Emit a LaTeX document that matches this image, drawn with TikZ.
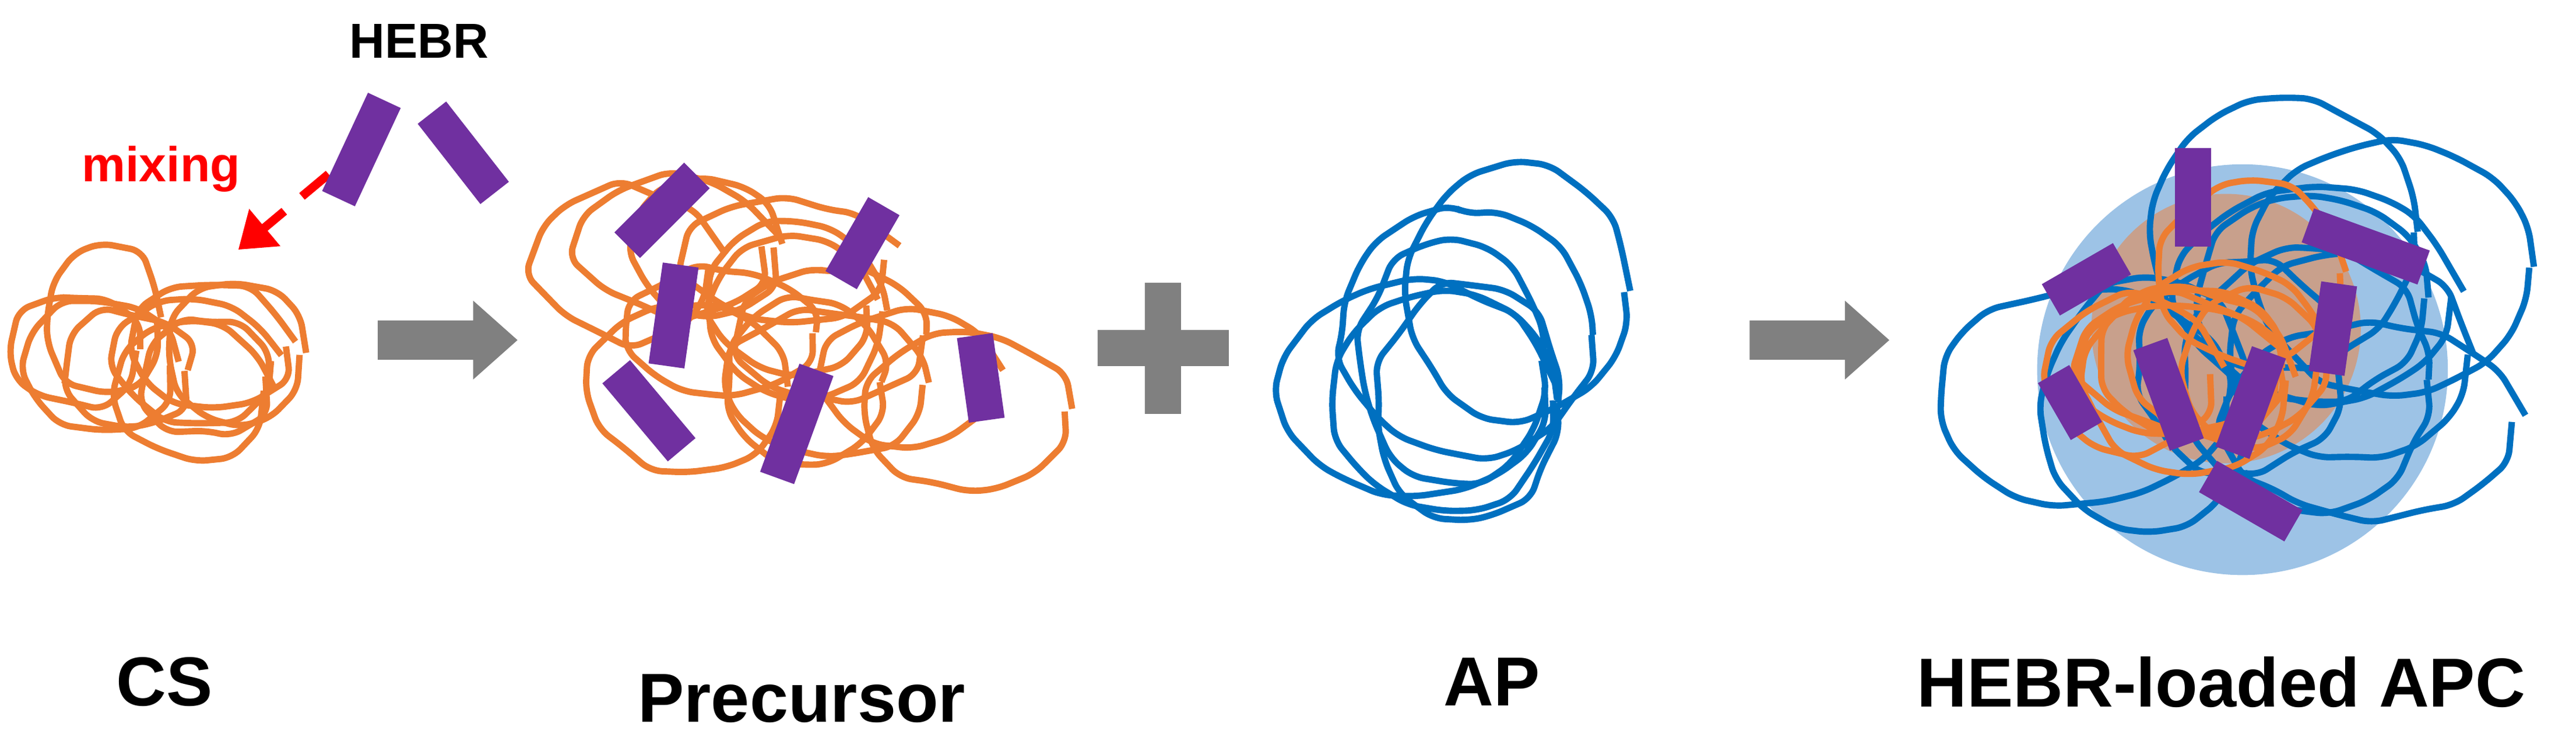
\documentclass[tikz,border=0pt]{standalone}
\usepackage{fontspec}
\setmainfont{Liberation Sans}
\usetikzlibrary{decorations.pathmorphing,arrows.meta}
\definecolor{orng}{RGB}{237,125,49}
\definecolor{blu}{RGB}{0,112,192}
\definecolor{purp}{RGB}{112,48,160}
\definecolor{gry}{RGB}{128,128,128}
\definecolor{lblue}{RGB}{157,195,230}
\definecolor{brn}{RGB}{200,160,140}
\tikzset{
 wob/.style={decorate,decoration={random steps,segment length=6pt,amplitude=1pt},rounded corners=2pt,line width=1.1pt},
 lab/.style={font=\bfseries\fontsize{12}{14}\selectfont},
 small/.style={font=\bfseries\fontsize{8.5}{10}\selectfont}
}
\newcommand\scrib[7]{% color cx cy dx dy r n
 \foreach \i in {1,...,#7}{
  \pgfmathsetmacro\ax{#2+rand*#4}\pgfmathsetmacro\ay{#3+rand*#5}
  \pgfmathsetmacro\ra{#6*(0.7+0.4*rnd)}\pgfmathsetmacro\rb{#6*(0.6+0.4*rnd)}
  \draw[wob,#1] (\ax,\ay) ellipse ({\ra} and {\rb});}}
\newcommand\pbar[4]{\fill[purp,rotate around={-#3:(#1,#2)}] (#1-11,#2-#4/2) rectangle (#1+11,#2+#4/2);}
\newcommand\garrow[2]{\fill[gry] (#1,#2-12) -- (#1+58,#2-12) -- (#1+58,#2-24) -- (#1+85,#2) -- (#1+58,#2+24) -- (#1+58,#2+12) -- (#1,#2+12) -- cycle;}
\begin{document}
\begin{tikzpicture}[x=0.01cm,y=-0.01cm]
\useasboundingbox (0,0) rectangle (1568,455);
\pgfmathsetseed{11}
% CS
\scrib{orng}{105}{215}{60}{28}{45}{9}
% HEBR
\node[small] (hebr) at (255,25) {HEBR};
\node[small,red] (mix) at (98,103) {mixing};
\coordinate (m1) at (200,106); \coordinate (m2) at (145,152);
\draw[red,line width=1.5pt,dash pattern=on 6pt off 4pt,-{Triangle[length=6pt,width=8pt]}] (m1) -- (m2);
\pbar{220}{91}{25}{66}
\pbar{282}{93}{-38}{62}
\garrow{230}{207}
% Precursor
\scrib{orng}{490}{200}{110}{55}{55}{13}
\pbar{403}{128}{45}{60}
\pbar{410}{192}{8}{62}
\pbar{395}{250}{-40}{62}
\pbar{525}{148}{30}{52}
\pbar{485}{258}{20}{70}
\pbar{597}{230}{-8}{52}
% plus
\fill[gry] (668,201) rectangle (748,223);
\fill[gry] (697,172) rectangle (719,252);
% AP
\scrib{blu}{905}{205}{60}{50}{75}{6}
\garrow{1065}{207}
% APC
\fill[lblue] (1365,225) circle (125);
\fill[brn] (1355,200) circle (82);
\scrib{blu}{1365}{225}{105}{85}{80}{10}
\scrib{orng}{1335}{200}{45}{35}{55}{8}
\pbar{1335}{120}{0}{60}
\pbar{1270}{170}{60}{50}
\pbar{1440}{150}{-70}{75}
\pbar{1420}{200}{8}{55}
\pbar{1320}{240}{-20}{65}
\pbar{1370}{245}{20}{65}
\pbar{1260}{245}{-30}{40}
\pbar{1370}{305}{-60}{60}
% labels
\node[lab] (cs) at (100,415) {CS};
\node[lab] (pre) at (488,425) {Precursor};
\node[lab] (ap) at (908,415) {AP};
\node[lab] (apc) at (1352,415) {HEBR-loaded APC};
\end{tikzpicture}
\end{document}
